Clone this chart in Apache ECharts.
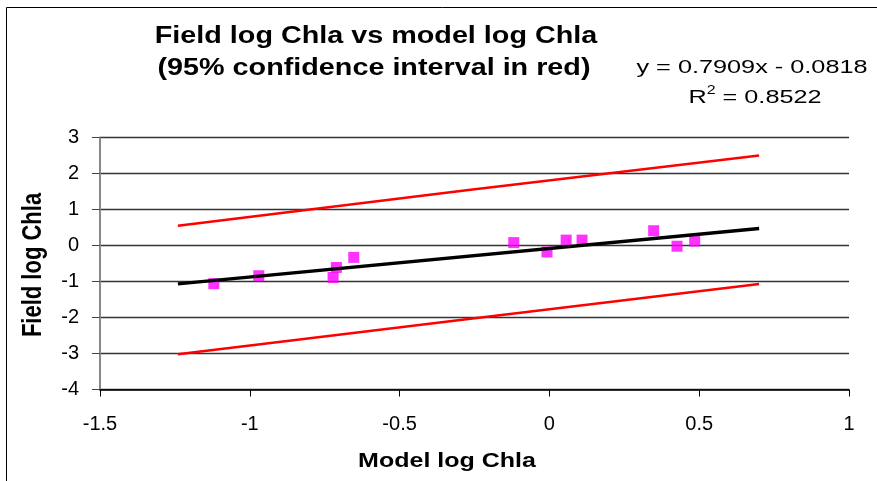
<!DOCTYPE html>
<html>
<head>
<meta charset="utf-8">
<script src="https://cdn.jsdelivr.net/npm/echarts@6/dist/echarts.min.js"></script>
<style>html,body{margin:0;padding:0;background:#fff;}#c{width:877px;height:481px;}</style>
</head>
<body>
<div id="c"></div>
<script>
// Data
var modelX = [-1.12, -0.97, -0.722, -0.711, -0.653, -0.119, -0.008, 0.056, 0.109, 0.348, 0.426, 0.485];
var fieldY = [-1.06, -0.84, -0.89, -0.61, -0.33, 0.08, -0.18, 0.15, 0.15, 0.41, -0.02, 0.12];
var trendX = [-1.24, 0.70];
var trendY = [-1.063, 0.472];
var ciX = [-1.24, -0.27, 0.70];
var upperY = [0.55, 1.54, 2.50];
var lowerY = [-3.02, -2.04, -1.07];
var xTicks = [-1.5, -1, -0.5, 0, 0.5, 1];
var yTicks = [-4, -3, -2, -1, 0, 1, 2, 3];
var titleLines = ['Field log Chla vs model log Chla', '(95% confidence interval in red)'];
var equationText = 'y = 0.7909x - 0.0818';
var r2Value = '0.8522';
var xName = 'Model log Chla';
var yName = 'Field log Chla';

function pairs(xs, ys) { return xs.map(function (x, i) { return [x, ys[i]]; }); }

var chart = echarts.init(document.getElementById('c'), null, {renderer: 'canvas'});
var FONT = '"Liberation Sans", Arial, sans-serif';
chart.setOption({
  animation: false,
  backgroundColor: '#fff',
  grid: {left: 100, right: 28, top: 137.5, bottom: 91.5, containLabel: false},
  xAxis: {
    type: 'value', min: -1.5, max: 1, interval: 0.5,
    axisLine: {show: true, onZero: false, lineStyle: {color: '#000', width: 1.5}},
    axisTick: {show: true, length: 7, lineStyle: {color: '#000', width: 1}},
    axisLabel: {margin: 25, fontFamily: FONT, fontSize: 20, color: '#000',
      formatter: function (v) { return xTicks.indexOf(v) >= 0 ? String(v) : ''; }},
    splitLine: {show: false}
  },
  yAxis: {
    type: 'value', min: -4, max: 3, interval: 1,
    axisLine: {show: true, onZero: false, lineStyle: {color: '#888', width: 2}},
    axisTick: {show: true, length: 8, lineStyle: {color: '#444', width: 1}},
    axisLabel: {margin: 21, fontFamily: FONT, fontSize: 20, color: '#000', padding: [3, 0, 0, 0],
      formatter: function (v) { return yTicks.indexOf(v) >= 0 ? String(v) : ''; }},
    splitLine: {show: true, lineStyle: {color: '#333', width: 1.3}}
  },
  series: [
    {type: 'scatter', data: pairs(modelX, fieldY), symbol: 'rect', symbolSize: 11,
      itemStyle: {color: '#FF00FF'}, z: 2},
    {type: 'line', data: pairs(trendX, trendY), symbol: 'none', lineStyle: {color: '#000', width: 3.3}, z: 3},
    {type: 'line', data: pairs(ciX, upperY), symbol: 'none', lineStyle: {color: '#FF0000', width: 2.4}, z: 3},
    {type: 'line', data: pairs(ciX, lowerY), symbol: 'none', lineStyle: {color: '#FF0000', width: 2.4}, z: 3}
  ],
  graphic: [
    {type: 'rect', shape: {x: 6.5, y: 7.5, width: 900, height: 500}, style: {fill: 'none', stroke: '#000', lineWidth: 1}, silent: true},
    {type: 'text', x: 376, y: 37, scaleX: 1.25, style: {text: titleLines[0], x: 0, y: 0, font: 'bold 23px ' + FONT, fill: '#000', textAlign: 'center', verticalAlign: 'middle'}},
    {type: 'text', x: 374, y: 69, scaleX: 1.25, style: {text: titleLines[1], x: 0, y: 0, font: 'bold 23px ' + FONT, fill: '#000', textAlign: 'center', verticalAlign: 'middle'}},
    {type: 'text', x: 752, y: 68, scaleX: 1.33, style: {text: equationText, x: 0, y: 0, font: '19px ' + FONT, fill: '#000', textAlign: 'center', verticalAlign: 'middle'}},
    {type: 'text', x: 755, y: 96, scaleX: 1.33, style: {
      text: '{a|R}{s|2}{a| = ' + r2Value + '}', x: 0, y: 0, textAlign: 'center', verticalAlign: 'middle',
      rich: {a: {fontFamily: FONT, fontSize: 19, lineHeight: 22, fill: '#000', verticalAlign: 'bottom'},
             s: {fontFamily: FONT, fontSize: 12, lineHeight: 14, fill: '#000', verticalAlign: 'top'}}}},
    {type: 'text', x: 447, y: 461, scaleX: 1.25, style: {text: xName, x: 0, y: 0, font: 'bold 20px ' + FONT, fill: '#000', textAlign: 'center', verticalAlign: 'middle'}},
    {type: 'text', x: 33, y: 265, rotation: Math.PI / 2, scaleY: 1.25, style: {text: yName, x: 0, y: 0, font: 'bold 22px ' + FONT, fill: '#000', textAlign: 'center', verticalAlign: 'middle'}}
  ]
});
</script>
</body>
</html>
